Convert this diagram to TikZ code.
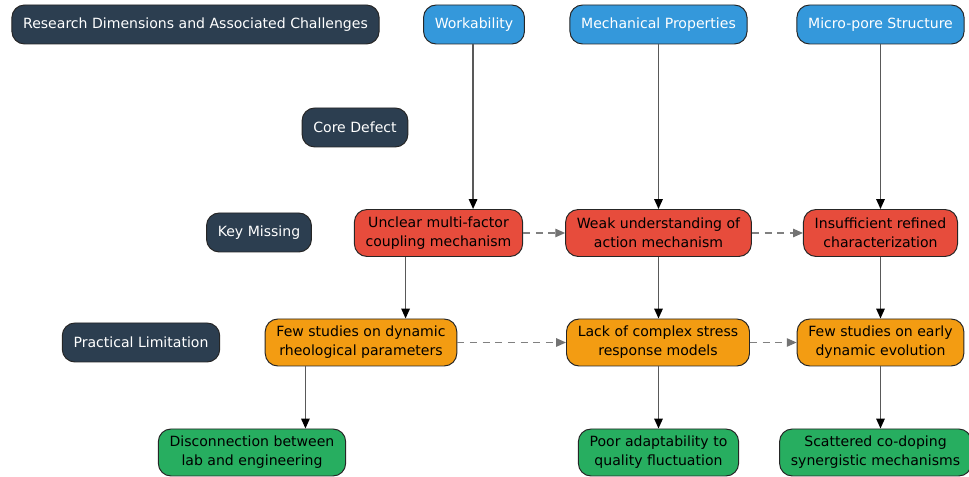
\documentclass[tikz,border=0pt]{standalone}
\usepackage{fontspec}
\setmainfont{DejaVu Sans}
\usepackage{xcolor}
\usetikzlibrary{positioning, arrows.meta, calc}

\definecolor{navy}{HTML}{2C3E50}
\definecolor{skyblue}{HTML}{3498DB}
\definecolor{alertred}{HTML}{E74C3C}
\definecolor{amber}{HTML}{F39C12}
\definecolor{leaf}{HTML}{27AE60}

\begin{document}
\begin{tikzpicture}[
  x=0.025cm, y=-0.025cm,
  basebox/.style={
    rectangle, draw=black!85, line width=0.7pt,
    rounded corners=9pt, align=center,
    inner xsep=8pt, inner ysep=0pt, minimum height=39*0.025cm,
    font=\fontsize{10}{13.5}\selectfont
  },
  rowbox/.style={basebox, fill=navy, text=white},
  dimbox/.style={basebox, fill=skyblue, text=white},
  gapbox/.style={basebox, fill=alertred, minimum height=47*0.025cm},
  limbox/.style={basebox, fill=amber, minimum height=47*0.025cm},
  effbox/.style={basebox, fill=leaf, minimum height=47*0.025cm},
  flow/.style={-{Triangle[length=7pt, width=6pt, color=black]}, black!65, line width=1pt},
  link/.style={-{Triangle[length=7pt, width=6pt, color=black!55]}, black!50,
    dash pattern=on 5pt off 4pt, line width=0.9pt},
]
\useasboundingbox (0,0) rectangle (969,477);

%% ── Row labels ───────────────────────────────────────────────────────────────
\node[rowbox] (title)  at (195.5, 24.5) {Research Dimensions and Associated Challenges};
\node[rowbox] (core)   at (355, 127.5)  {Core Defect};
\node[rowbox] (key)    at (259, 232.5)  {Key Missing};
\node[rowbox] (prac)   at (141, 342.5)  {Practical Limitation};

%% ── Dimensions ───────────────────────────────────────────────────────────────
\node[dimbox] (work)  at (474, 24.5)   {Workability};
\node[dimbox] (mech)  at (658.5, 24.5) {Mechanical Properties};
\node[dimbox] (pore)  at (880.5, 24.5) {Micro-pore Structure};

%% ── Key missing ──────────────────────────────────────────────────────────────
\node[gapbox] (unclear) at (438.5, 233) {Unclear multi-factor\\coupling mechanism};
\node[gapbox] (weak)    at (658.5, 233) {Weak understanding of\\action mechanism};
\node[gapbox] (insuff)  at (880.5, 233) {Insufficient refined\\characterization};

%% ── Practical limitation ─────────────────────────────────────────────────────
\node[limbox] (fewdyn)   at (361, 342.5)   {Few studies on dynamic\\rheological parameters};
\node[limbox] (lack)     at (658, 342.5)   {Lack of complex stress\\response models};
\node[limbox] (fewearly) at (880.5, 342.5) {Few studies on early\\dynamic evolution};

%% ── Consequences ─────────────────────────────────────────────────────────────
\node[effbox] (disc)    at (252, 452.5)   {Disconnection between\\lab and engineering};
\node[effbox] (poor)    at (658.5, 452.5) {Poor adaptability to\\quality fluctuation};
\node[effbox] (scat)    at (875.5, 452.5) {Scattered co-doping\\synergistic mechanisms};

%% ── Arrows ───────────────────────────────────────────────────────────────────
\coordinate (c1) at ($(work.south west)!0.5!(unclear.north east)$);
\coordinate (c2) at ($(unclear.south west)!0.5!(fewdyn.north east)$);
\coordinate (c3) at ($(fewdyn.south west)!0.5!(disc.north east)$);

\draw[flow] (c1 |- work.south)    -- (c1 |- unclear.north);
\draw[flow] (mech.south)          -- (weak.north);
\draw[flow] (pore.south)          -- (insuff.north);
\draw[flow] (c2 |- unclear.south) -- (c2 |- fewdyn.north);
\draw[flow] (weak.south)          -- (weak.south |- lack.north);
\draw[flow] (insuff.south)        -- (fewearly.north);
\draw[flow] (c3 |- fewdyn.south)  -- (c3 |- disc.north);
\draw[flow] (lack.south -| poor.north) -- (poor.north);
\draw[flow] (fewearly.south)      -- (fewearly.south |- scat.north);

\draw[link] (unclear.east) -- (weak.west);
\draw[link] (weak.east)    -- (insuff.west);
\draw[link] (fewdyn.east)  -- (lack.west);
\draw[link] (lack.east)    -- (fewearly.west);

\end{tikzpicture}
\end{document}
